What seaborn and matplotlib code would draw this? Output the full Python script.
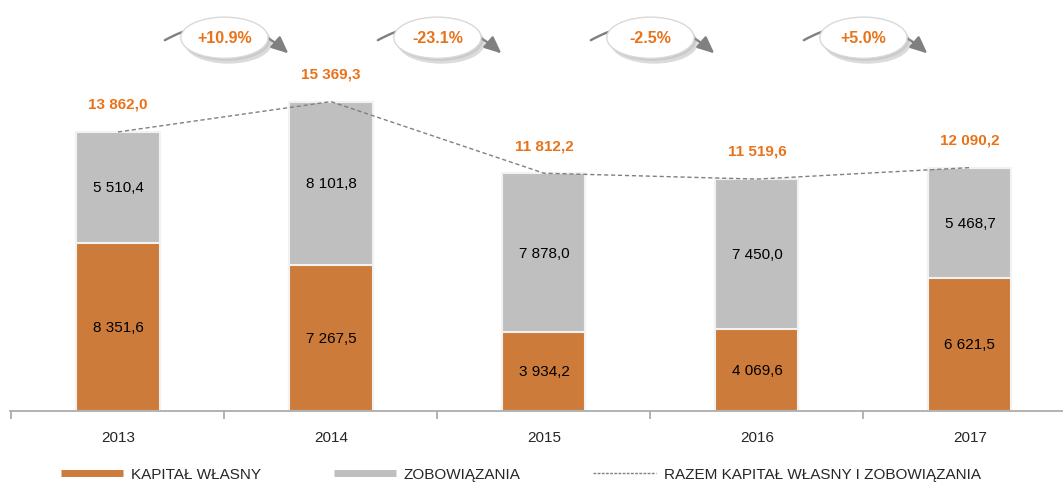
import matplotlib
matplotlib.use("Agg")
import matplotlib.pyplot as plt
from matplotlib.patches import Ellipse
from matplotlib.lines import Line2D
import numpy as np
import pandas as pd
import seaborn as sns

sns.set_theme(style="white")
plt.rcParams["font.family"] = ["Liberation Sans", "DejaVu Sans"]

years = ["2013", "2014", "2015", "2016", "2017"]
kapital = [8351.6, 7267.5, 3934.2, 4069.6, 6621.5]
zobowiazania = [5510.4, 8101.8, 7878.0, 7450.0, 5468.7]
razem = [13862.0, 15369.3, 11812.2, 11519.6, 12090.2]
zmiany = ["+10.9%", "-23.1%", "-2.5%", "+5.0%"]

ORANGE = "#CD7B3A"
GRAY = "#BFBFBF"
TXT_ORANGE = "#E8731A"


def fmt(v):
    return f"{v:,.1f}".replace(",", " ").replace(".", ",")


df = pd.DataFrame({"rok": years, "kapital": kapital,
                   "zobowiazania": zobowiazania, "razem": razem})
df["stack"] = df["kapital"] + df["zobowiazania"]

fig = plt.figure(figsize=(10.63, 4.85), dpi=100)
ax = fig.add_axes([10 / 1063, 73 / 485, 1053 / 1063, 412 / 485])

# stacked bars: total in gray, equity in orange on top of it
sns.barplot(data=df, x="rok", y="stack", color=GRAY, width=0.39,
            edgecolor="#F2F2F2", linewidth=1.5, ax=ax, saturation=1)
sns.barplot(data=df, x="rok", y="kapital", color=ORANGE, width=0.39,
            edgecolor="#F2F2F2", linewidth=1.5, ax=ax, saturation=1)

x = np.arange(len(years))
ax.plot(x, df["razem"], color="#808080", lw=1, ls=(0, (3, 2)), zorder=3)

for i in range(len(years)):
    k = kapital[i]
    z = zobowiazania[i]
    ax.text(i, k / 2, fmt(k), ha="center", va="center", fontsize=11, color="black")
    ax.text(i, k + z / 2, fmt(z), ha="center", va="center", fontsize=11, color="black")
    ax.text(i, razem[i] + 1400, fmt(razem[i]), ha="center", va="center",
            fontsize=11, fontweight="bold", color=TXT_ORANGE)

# change bubbles with curved arrows
trans = ax.get_xaxis_transform()
for i, lab in enumerate(zmiany):
    cx = i + 0.5
    ax.annotate("", xy=(cx + 0.3, 0.868), xytext=(cx - 0.28, 0.9),
                xycoords=trans, textcoords=trans,
                arrowprops=dict(arrowstyle="-|>,head_width=0.38,head_length=0.85",
                                color="#808080", lw=1.7, shrinkA=0, shrinkB=0,
                                connectionstyle="arc3,rad=-0.35"), zorder=4)
    ax.add_patch(Ellipse((cx + 0.018, 0.893), 0.41, 0.1, transform=trans,
                         fc="#9A9A9A", ec="none", alpha=0.35, zorder=5))
    ax.add_patch(Ellipse((cx + 0.01, 0.9), 0.41, 0.1, transform=trans,
                         fc="#8A8A8A", ec="none", alpha=0.2, zorder=5))
    ax.add_patch(Ellipse((cx, 0.906), 0.41, 0.1, transform=trans,
                         fc="white", ec="#D9D9D9", lw=1, zorder=6))
    ax.text(cx, 0.906, lab, transform=trans, ha="center", va="center",
            fontsize=11.5, fontweight="bold", color=TXT_ORANGE, zorder=7)

ax.set_xlim(-0.507, 4.437)
ax.set_ylim(0, 412 / 0.02013)
ax.set_xlabel("")
ax.set_ylabel("")
ax.set_yticks([])
for s in ["top", "right", "left"]:
    ax.spines[s].set_visible(False)
ax.spines["bottom"].set_color("#A6A6A6")
ax.spines["bottom"].set_linewidth(1.2)
ax.set_xticks(x)
ax.set_xticklabels(years, fontsize=11)
ax.set_xticks(np.arange(-0.5, 4.5, 1), minor=True)
ax.tick_params(axis="x", which="major", bottom=False, length=0, pad=14)
ax.tick_params(axis="x", which="minor", bottom=True, length=6, color="#A6A6A6",
               width=1.2, direction="out")

handles = [
    Line2D([0], [0], color=ORANGE, lw=5, solid_capstyle="butt"),
    Line2D([0], [0], color=GRAY, lw=5, solid_capstyle="butt"),
    Line2D([0], [0], color="#808080", lw=1, ls=(0, (2, 1))),
]
labels = ["KAPITAŁ WŁASNY", "ZOBOWIĄZANIA", "RAZEM KAPITAŁ WŁASNY I ZOBOWIĄZANIA"]
fig.legend(handles, labels, loc="center left", bbox_to_anchor=(47 / 1063, 10 / 485),
           ncol=3, frameon=False, fontsize=11, handlelength=4.1,
           columnspacing=4.75, handletextpad=0.5)

fig.savefig("out.png", dpi=100)
